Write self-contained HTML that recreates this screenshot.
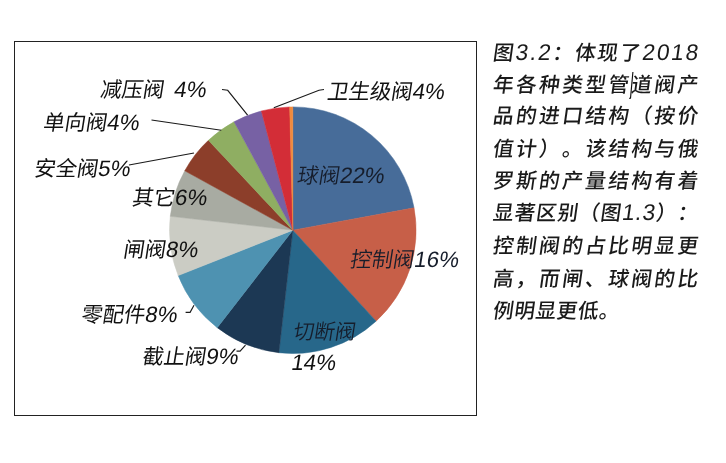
<!DOCTYPE html>
<html lang="zh-CN">
<head>
<meta charset="utf-8">
<title>图3.2</title>
<style>
html,body{margin:0;padding:0;background:#fff;}
body{text-spacing-trim:space-all;font-kerning:none;width:726px;height:463px;position:relative;overflow:hidden;font-family:"Liberation Sans","Noto Sans CJK SC",sans-serif;color:#1a1a1a;}
.frame{position:absolute;left:14px;top:41px;width:463px;height:375px;box-sizing:border-box;border:1px solid #222;}
svg{position:absolute;left:0;top:0;}
.lb{position:absolute;white-space:nowrap;font-size:21.3px;line-height:32px;font-weight:400;color:#111;transform:skewX(-9deg);transform-origin:0 100%;}
.lb .d{font-size:22.3px;}
#lb0{word-spacing:4px;}
#lb8,#lb9,#lb10{font-weight:350;color:#161d2b;}
#lb8{font-size:20.8px;}
.ln{position:absolute;left:491px;white-space:nowrap;font-size:20.6px;line-height:32px;height:32px;font-weight:500;color:#1a1a1a;transform:skewX(-8deg);transform-origin:0 100%;}
.ln .e{font-size:22.6px;}
</style>
</head>
<body>
<div class="frame"></div>
<svg width="726" height="463" viewBox="0 0 726 463">
<path d="M292.8 230.2L292.80 106.90A123.3 123.3 0 0 1 414.06 207.86Z" fill="#476c99" stroke="#476c99" stroke-width="0.5"/>
<path d="M292.8 230.2L414.06 207.86A123.3 123.3 0 0 1 376.07 321.14Z" fill="#c75f48" stroke="#c75f48" stroke-width="0.5"/>
<path d="M292.8 230.2L376.07 321.14A123.3 123.3 0 0 1 278.88 352.71Z" fill="#27678a" stroke="#27678a" stroke-width="0.5"/>
<path d="M292.8 230.2L278.88 352.71A123.3 123.3 0 0 1 217.23 327.63Z" fill="#1c3854" stroke="#1c3854" stroke-width="0.5"/>
<path d="M292.8 230.2L217.23 327.63A123.3 123.3 0 0 1 178.16 275.59Z" fill="#4e92b1" stroke="#4e92b1" stroke-width="0.5"/>
<path d="M292.8 230.2L178.16 275.59A123.3 123.3 0 0 1 170.29 216.28Z" fill="#cbccc4" stroke="#cbccc4" stroke-width="0.5"/>
<path d="M292.8 230.2L170.29 216.28A123.3 123.3 0 0 1 184.75 170.80Z" fill="#a8aba2" stroke="#a8aba2" stroke-width="0.5"/>
<path d="M292.8 230.2L184.75 170.80A123.3 123.3 0 0 1 208.40 140.32Z" fill="#8c3e2a" stroke="#8c3e2a" stroke-width="0.5"/>
<path d="M292.8 230.2L208.40 140.32A123.3 123.3 0 0 1 234.08 121.78Z" fill="#8fae62" stroke="#8fae62" stroke-width="0.5"/>
<path d="M292.8 230.2L234.08 121.78A123.3 123.3 0 0 1 261.39 110.97Z" fill="#7761a4" stroke="#7761a4" stroke-width="0.5"/>
<path d="M292.8 230.2L261.39 110.97A123.3 123.3 0 0 1 289.70 106.94Z" fill="#d32d37" stroke="#d32d37" stroke-width="0.5"/>
<path d="M292.8 230.2L289.70 106.94A123.3 123.3 0 0 1 292.80 106.90Z" fill="#f08a3c" stroke="#f08a3c" stroke-width="0.5"/>
<path d="M222 89.5 L227.7 90.3 L247.6 115.2" fill="none" stroke="#1a1a1a" stroke-width="1.15"/>
<path d="M151.5 120 L221.3 130.3" fill="none" stroke="#1a1a1a" stroke-width="1.15"/>
<path d="M129 165 L194 153" fill="none" stroke="#1a1a1a" stroke-width="1.15"/>
<path d="M324 89.5 L319 90.2 L273.8 107.8" fill="none" stroke="#1a1a1a" stroke-width="1.15"/>
<path d="M185.6 312.3 L190.1 312.3 L194 305.3" fill="none" stroke="#1a1a1a" stroke-width="1.15"/>
<path d="M236.5 351.1 L240.1 351.1 L245.5 345.2" fill="none" stroke="#1a1a1a" stroke-width="1.15"/>
<path d="M632.9 72 L630.5 98.2 M629 98.2 L631 98.2" fill="none" stroke="#111" stroke-width="1.15"/>
</svg>
<div class="lb" id="lb0" style="left:98.00px;top:73.85px">减压阀 <span class="d">4%</span></div>
<div class="lb" id="lb1" style="left:40.75px;top:107.40px">单向阀<span class="d">4%</span></div>
<div class="lb" id="lb2" style="left:32.00px;top:152.90px">安全阀<span class="d">5%</span></div>
<div class="lb" id="lb3" style="left:130.25px;top:182.00px">其它<span class="d">6%</span></div>
<div class="lb" id="lb4" style="left:121.00px;top:234.00px">闸阀<span class="d">8%</span></div>
<div class="lb" id="lb5" style="left:78.75px;top:299.25px">零配件<span class="d">8%</span></div>
<div class="lb" id="lb6" style="left:139.75px;top:340.70px">截止阀<span class="d">9%</span></div>
<div class="lb" id="lb7" style="left:289.00px;top:346.50px"><span class="d">14%</span></div>
<div class="lb" id="lb8" style="left:291.25px;top:315.75px">切断阀</div>
<div class="lb" id="lb9" style="left:347.90px;top:244.25px">控制阀<span class="d">16%</span></div>
<div class="lb" id="lb10" style="left:294.50px;top:159.85px">球阀<span class="d">22%</span></div>
<div class="lb" id="lb11" style="left:325.25px;top:76.00px">卫生级阀<span class="d">4%</span></div>
<div class="ln" id="ln0" style="top:37px;letter-spacing:1.849px">图<span class="e">3.2</span>：体现了<span class="e">2018</span></div>
<div class="ln" id="ln1" style="top:69px;letter-spacing:2.457px">年各种类型管道阀产</div>
<div class="ln" id="ln2" style="top:100px;letter-spacing:2.457px">品的进口结构（按价</div>
<div class="ln" id="ln3" style="top:133px;letter-spacing:2.457px">值计）。该结构与俄</div>
<div class="ln" id="ln4" style="top:165px;letter-spacing:2.457px">罗斯的产量结构有着</div>
<div class="ln" id="ln5" style="top:197px;letter-spacing:0.883px">显著区别（图<span class="e">1.3</span>）：</div>
<div class="ln" id="ln6" style="top:230px;letter-spacing:2.457px">控制阀的占比明显更</div>
<div class="ln" id="ln7" style="top:263px;letter-spacing:2.457px">高，而闸、球阀的比</div>
<div class="ln" id="ln8" style="top:295px;letter-spacing:0.600px">例明显更低。</div>
</body>
</html>
